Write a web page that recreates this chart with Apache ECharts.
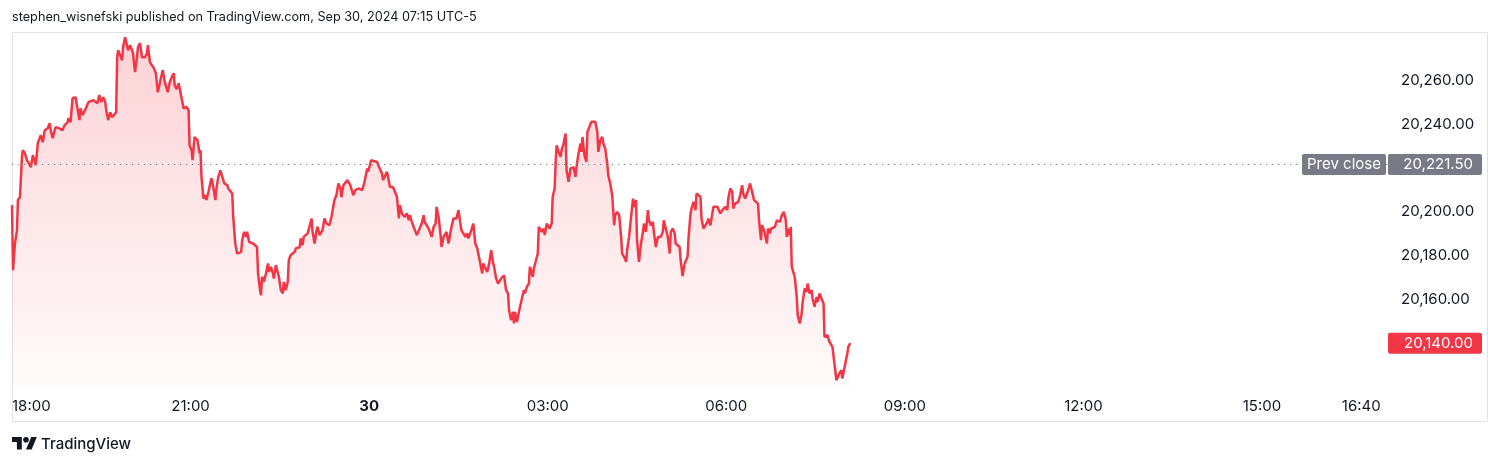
<!DOCTYPE html>
<html><head><meta charset="utf-8">
<script src="https://cdn.jsdelivr.net/npm/echarts@6/dist/echarts.min.js"></script>
<style>html,body{margin:0;padding:0;background:#fff}#c{width:1500px;height:465px}</style>
</head><body><div id="c"></div>
<script>
// ---- data ----
const headerText = 'stephen_wisnefski published on TradingView.com, Sep 30, 2024 07:15 UTC-5';
const brandText = 'TradingView';
const sessionSpanMinutes = 1387;               // time scale length, minutes after 18:00
const timeTickValues = [0, 180, 360, 540, 720, 900, 1080, 1260, 1360];
const timeTickLabels = ['18:00', '21:00', '30', '03:00', '06:00', '09:00', '12:00', '15:00', '16:40'];
const priceTickValues = [20160, 20180, 20200, 20240, 20260];
const priceMin = 20120, priceMax = 20282;
const prevClose = 20221.5;
const prevCloseLabel = 'Prev close';
// [minutes after 18:00, price]
const priceTicks = [
[0,20203.0],[1,20173.3],[3,20185.6],[5,20191.6],[6,20205.3],[8,20206.6],[10,20224.9],[11,20228.1],[13,20226.7],[15,20223.5],
[17,20222.1],[19,20220.3],[21,20225.8],[22,20224.9],[24,20221.2],[26,20231.3],[28,20231.7],[29,20234.9],[31,20231.7],[33,20237.2],
[34,20236.3],[36,20238.1],[38,20240.4],[39,20237.2],[41,20233.5],[43,20237.2],[44,20238.6],[47,20238.1],[49,20238.1],[51,20237.2],
[53,20239.5],[56,20240.8],[57,20242.7],[59,20240.8],[61,20251.8],[62,20250.9],[64,20252.2],[66,20247.2],[68,20241.8],[69,20247.2],
[71,20244.0],[73,20244.0],[75,20247.7],[77,20250.0],[79,20250.9],[82,20250.9],[84,20251.8],[86,20249.5],[88,20253.2],[90,20250.0],
[92,20252.2],[94,20250.0],[95,20246.3],[97,20241.8],[99,20245.4],[101,20243.1],[103,20244.0],[105,20245.4],[106,20270.5],[107,20273.7],
[109,20274.6],[111,20269.1],[112,20275.1],[114,20279.6],[116,20279.2],[117,20273.7],[119,20276.0],[121,20273.7],[122,20272.3],[124,20263.7],
[126,20270.5],[127,20275.1],[129,20276.9],[131,20270.5],[132,20270.0],[134,20270.5],[136,20272.3],[137,20276.0],[139,20268.2],[141,20267.8],
[143,20265.5],[145,20263.2],[147,20254.5],[149,20258.6],[150,20260.9],[152,20264.6],[154,20259.1],[155,20257.7],[157,20254.5],[159,20259.1],
[161,20261.4],[163,20263.2],[164,20257.7],[166,20255.9],[168,20258.6],[169,20259.1],[173,20247.1],[176,20247.8],[178,20246.3],[179,20230.3],
[181,20228.1],[182,20223.5],[184,20234.1],[186,20234.9],[187,20232.6],[189,20226.6],[190,20228.1],[191,20215.9],[193,20206.0],[195,20207.5],
[196,20205.3],[198,20209.0],[200,20208.3],[201,20215.2],[202,20213.6],[204,20214.4],[205,20205.3],[206,20210.6],[208,20215.9],[210,20218.9],
[211,20218.2],[212,20218.9],[214,20212.9],[217,20212.1],[218,20210.6],[220,20211.3],[222,20208.3],[223,20197.6],[225,20185.5],[227,20180.9],
[228,20181.7],[231,20181.7],[232,20187.0],[234,20190.8],[236,20188.5],[237,20190.8],[239,20186.2],[241,20185.5],[243,20185.5],[245,20186.2],
[247,20183.9],[248,20171.8],[250,20164.2],[251,20161.9],[252,20170.3],[254,20168.0],[256,20171.8],[258,20176.4],[259,20172.5],[261,20174.8],
[263,20171.8],[264,20169.5],[266,20175.6],[268,20174.8],[269,20170.3],[271,20164.2],[273,20162.7],[274,20168.0],[276,20164.2],[278,20168.0],
[279,20177.9],[281,20180.2],[283,20180.9],[285,20181.7],[286,20183.2],[288,20182.4],[290,20183.9],[291,20187.8],[293,20184.7],[294,20188.5],
[296,20189.3],[298,20190.1],[300,20189.3],[302,20196.9],[303,20190.8],[305,20185.5],[307,20191.6],[308,20193.1],[310,20189.3],[312,20190.1],
[313,20191.6],[315,20196.9],[317,20194.6],[318,20195.3],[320,20193.8],[322,20197.6],[323,20198.4],[325,20205.3],[327,20207.5],[329,20212.9],
[331,20210.6],[332,20206.6],[334,20212.1],[338,20214.4],[341,20212.1],[344,20207.5],[346,20209.8],[349,20210.6],[353,20209.8],[355,20212.9],
[358,20219.7],[359,20218.2],[362,20223.5],[364,20222.7],[368,20222.7],[370,20220.4],[373,20217.4],[374,20214.4],[376,20214.4],[378,20218.2],
[381,20211.3],[384,20211.3],[386,20210.6],[388,20206.8],[390,20196.9],[391,20203.0],[393,20199.2],[395,20199.9],[396,20197.6],[398,20199.2],
[400,20196.1],[401,20198.4],[403,20195.3],[405,20194.6],[408,20189.3],[410,20190.1],[413,20194.6],[415,20198.4],[416,20195.3],[418,20196.1],
[420,20192.3],[422,20191.6],[423,20188.5],[425,20193.1],[427,20194.6],[428,20202.2],[430,20197.6],[432,20189.3],[433,20183.9],[435,20188.5],
[438,20190.8],[440,20185.5],[442,20184.7],[443,20193.1],[445,20196.9],[448,20196.9],[450,20200.7],[452,20200.7],[453,20191.6],[455,20192.3],
[457,20188.5],[459,20190.1],[460,20187.8],[463,20191.6],[465,20194.6],[467,20185.5],[469,20183.2],[471,20178.6],[474,20171.8],[475,20176.4],
[477,20175.6],[479,20172.5],[481,20176.4],[483,20182.4],[485,20176.4],[486,20174.8],[488,20169.5],[490,20167.2],[491,20167.2],[493,20169.5],
[495,20170.3],[496,20171.0],[498,20164.2],[500,20162.7],[501,20155.1],[503,20150.5],[505,20154.3],[506,20149.0],[507,20154.3],[509,20149.7],
[511,20154.3],[512,20153.6],[514,20160.4],[516,20164.2],[517,20162.7],[519,20165.7],[521,20167.2],[522,20174.8],[525,20170.3],[526,20174.1],
[528,20173.3],[530,20180.9],[531,20193.1],[532,20193.1],[534,20190.8],[536,20192.3],[537,20189.3],[539,20194.6],[542,20192.3],[544,20194.6],
[545,20206.8],[547,20210.6],[548,20222.7],[549,20230.3],[551,20227.3],[553,20225.0],[554,20228.1],[556,20231.1],[558,20235.7],[559,20218.9],
[561,20213.6],[563,20219.7],[565,20218.9],[566,20220.4],[568,20215.9],[569,20220.4],[571,20226.6],[573,20231.1],[574,20227.3],[575,20234.1],
[577,20225.8],[579,20222.7],[580,20236.4],[582,20238.7],[584,20241.0],[586,20241.8],[588,20241.0],[590,20236.4],[591,20227.3],[593,20232.6],
[595,20234.1],[596,20231.1],[598,20228.8],[600,20222.0],[601,20216.7],[603,20212.9],[605,20207.5],[606,20206.8],[607,20193.8],[608,20198.4],
[610,20199.9],[612,20198.4],[614,20188.5],[615,20180.9],[617,20179.4],[619,20177.1],[620,20182.4],[622,20188.5],[624,20197.6],[626,20206.0],
[627,20202.2],[629,20205.3],[630,20187.0],[632,20177.1],[634,20185.5],[636,20190.8],[637,20194.6],[639,20190.8],[641,20200.7],[642,20196.1],
[644,20193.8],[646,20195.3],[647,20190.8],[649,20183.9],[651,20188.5],[652,20189.3],[654,20188.5],[656,20190.8],[657,20196.1],[659,20195.3],
[661,20188.5],[663,20180.9],[664,20190.8],[666,20192.3],[668,20190.1],[669,20185.5],[671,20186.2],[673,20183.9],[674,20177.9],[676,20170.6],
[678,20176.4],[679,20177.1],[681,20179.4],[682,20188.5],[684,20199.3],[685,20201.5],[687,20204.5],[689,20200.7],[690,20208.3],[692,20209.0],
[694,20206.8],[695,20196.9],[697,20192.3],[699,20193.8],[701,20195.3],[702,20196.9],[704,20193.8],[706,20193.1],[707,20202.2],[709,20203.0],
[711,20202.2],[712,20202.2],[714,20199.2],[716,20200.7],[717,20201.5],[719,20202.2],[721,20200.7],[722,20206.0],[724,20210.6],[726,20209.0],
[727,20201.5],[729,20203.7],[731,20203.0],[732,20204.5],[734,20207.5],[736,20212.1],[737,20208.3],[739,20206.0],[741,20205.3],[742,20209.8],
[744,20212.9],[746,20213.6],[748,20205.3],[749,20204.5],[752,20203.7],[753,20196.1],[755,20187.0],[756,20193.8],[758,20191.6],[759,20190.8],
[761,20185.5],[762,20192.3],[764,20190.1],[765,20192.3],[767,20191.6],[769,20193.1],[771,20196.1],[773,20196.9],[774,20195.3],[776,20198.4],
[778,20199.9],[780,20196.1],[781,20188.5],[782,20192.3],[784,20189.3],[785,20193.1],[786,20174.8],[787,20174.1],[789,20170.3],[791,20161.1],
[792,20152.8],[794,20149.0],[796,20153.6],[797,20158.8],[799,20165.0],[801,20163.4],[802,20167.2],[804,20162.7],[806,20164.2],[807,20160.4],
[809,20156.6],[811,20161.1],[812,20158.8],[814,20162.7],[816,20160.4],[818,20158.1],[819,20142.9],[821,20142.1],[822,20143.7],[824,20140.6],
[826,20141.4],[827,20138.3],[829,20130.7],[831,20123.1],[832,20122.3],[834,20126.2],[836,20127.7],[837,20123.9],[839,20128.5],[841,20129.2],
[842,20135.3],[843,20138.3],[845,20140.0]
];

// ---- styling ----
const FONT = 'Inter, "Noto Sans", Roboto, sans-serif';
const TEXT = '#131722';
const RED = '#F23645';
const GRAY = '#787B86';
const fmt = v => v.toLocaleString('en-US', {minimumFractionDigits: 2, maximumFractionDigits: 2});
const lastPrice = priceTicks[priceTicks.length - 1][1];

const chart = echarts.init(document.getElementById('c'), null, {renderer: 'canvas'});
chart.setOption({
  animation: false,
  backgroundColor: '#ffffff',
  grid: {left: 12, right: 112, top: 32, bottom: 78},
  xAxis: {
    type: 'value', min: 0, max: sessionSpanMinutes,
    axisLine: {show: false}, axisTick: {show: false}, splitLine: {show: false},
    axisLabel: {
      customValues: timeTickValues,
      alignMinLabel: 'left',
      margin: 12,
      color: TEXT, fontFamily: FONT, fontSize: 15,
      formatter: v => {
        const i = timeTickValues.indexOf(v);
        const s = i >= 0 ? timeTickLabels[i] : '';
        return /:/.test(s) ? s : '{b|' + s + '}';
      },
      rich: {b: {fontWeight: 'bold', color: TEXT, fontFamily: FONT, fontSize: 15}}
    }
  },
  yAxis: {
    type: 'value', position: 'right', min: priceMin, max: priceMax,
    axisLine: {show: false}, axisTick: {show: false}, splitLine: {show: false},
    axisLabel: {
      customValues: priceTickValues,
      margin: 13, align: 'left',
      color: TEXT, fontFamily: FONT, fontSize: 15,
      formatter: v => fmt(v)
    }
  },
  series: [{
    type: 'line',
    data: priceTicks,
    showSymbol: false,
    sampling: 'none',
    lineStyle: {color: RED, width: 2.5},
    itemStyle: {color: RED},
    areaStyle: {
      origin: 'start',
      color: new echarts.graphic.LinearGradient(0, 0, 0, 1, [
        {offset: 0, color: 'rgba(242,54,69,0.32)'},
        {offset: 1, color: 'rgba(242,54,69,0.03)'}
      ])
    },
    markLine: {
      silent: true, symbol: ['none', 'none'], label: {show: false},
      lineStyle: {color: GRAY, type: [1.2, 4.8], width: 1.2},
      data: [{yAxis: prevClose}]
    },
    z: 3
  }]
});

// overlays placed from the axes' own scales
const plotRight = chart.convertToPixel({xAxisIndex: 0}, sessionSpanMinutes);
const yPrev = chart.convertToPixel({yAxisIndex: 0}, prevClose);
const yLast = chart.convertToPixel({yAxisIndex: 0}, lastPrice);
const boxH = 21;
const tag = (x, y, w, fill, text, z) => ([
  {type: 'rect', shape: {x: x, y: y - boxH / 2, width: w, height: boxH, r: 2}, style: {fill: fill}, z: z},
  {type: 'text', x: x + w - 9, y: y, style: {text: text, fill: '#ffffff', font: '15px ' + FONT, align: 'right', verticalAlign: 'middle'}, z: z + 1}
]);
// TradingView logo (decoration)
const s = 0.70, lx = 12, ly = 437 - 4 * s;
const P = pts => pts.map(p => [lx + p[0] * s, ly + p[1] * s]);
chart.setOption({
  graphic: [
    {type: 'rect', shape: {x: 12.5, y: 32.5, width: 1475, height: 389}, style: {fill: 'none', stroke: '#E0E3EB', lineWidth: 1}, z: 1, silent: true},
    {type: 'text', x: 12, y: 17.5, style: {text: headerText, fill: TEXT, font: '12.7px ' + FONT, verticalAlign: 'middle'}},
    {type: 'polygon', shape: {points: P([[0,4],[14,4],[14,22],[7,22],[7,11],[0,11]])}, style: {fill: TEXT}},
    {type: 'polygon', shape: {points: P([[20,22],[27.5,4],[35.5,4],[28,22]])}, style: {fill: TEXT}},
    {type: 'circle', shape: {cx: lx + 20 * s, cy: ly + 8 * s, r: 4 * s}, style: {fill: TEXT}},
    {type: 'text', x: 41, y: 444, style: {text: brandText, fill: TEXT, font: '500 15px ' + FONT, verticalAlign: 'middle'}},
    {type: 'rect', shape: {x: plotRight - 86, y: yPrev - boxH / 2, width: 84, height: boxH, r: 2}, style: {fill: GRAY}, z: 10},
    {type: 'text', x: plotRight - 44, y: yPrev, style: {text: prevCloseLabel, fill: '#ffffff', font: '15px ' + FONT, align: 'center', verticalAlign: 'middle'}, z: 11},
    ...tag(plotRight, yPrev, 94, GRAY, fmt(prevClose), 10),
    ...tag(plotRight, yLast, 94, RED, fmt(lastPrice), 10)
  ]
});
</script></body></html>
